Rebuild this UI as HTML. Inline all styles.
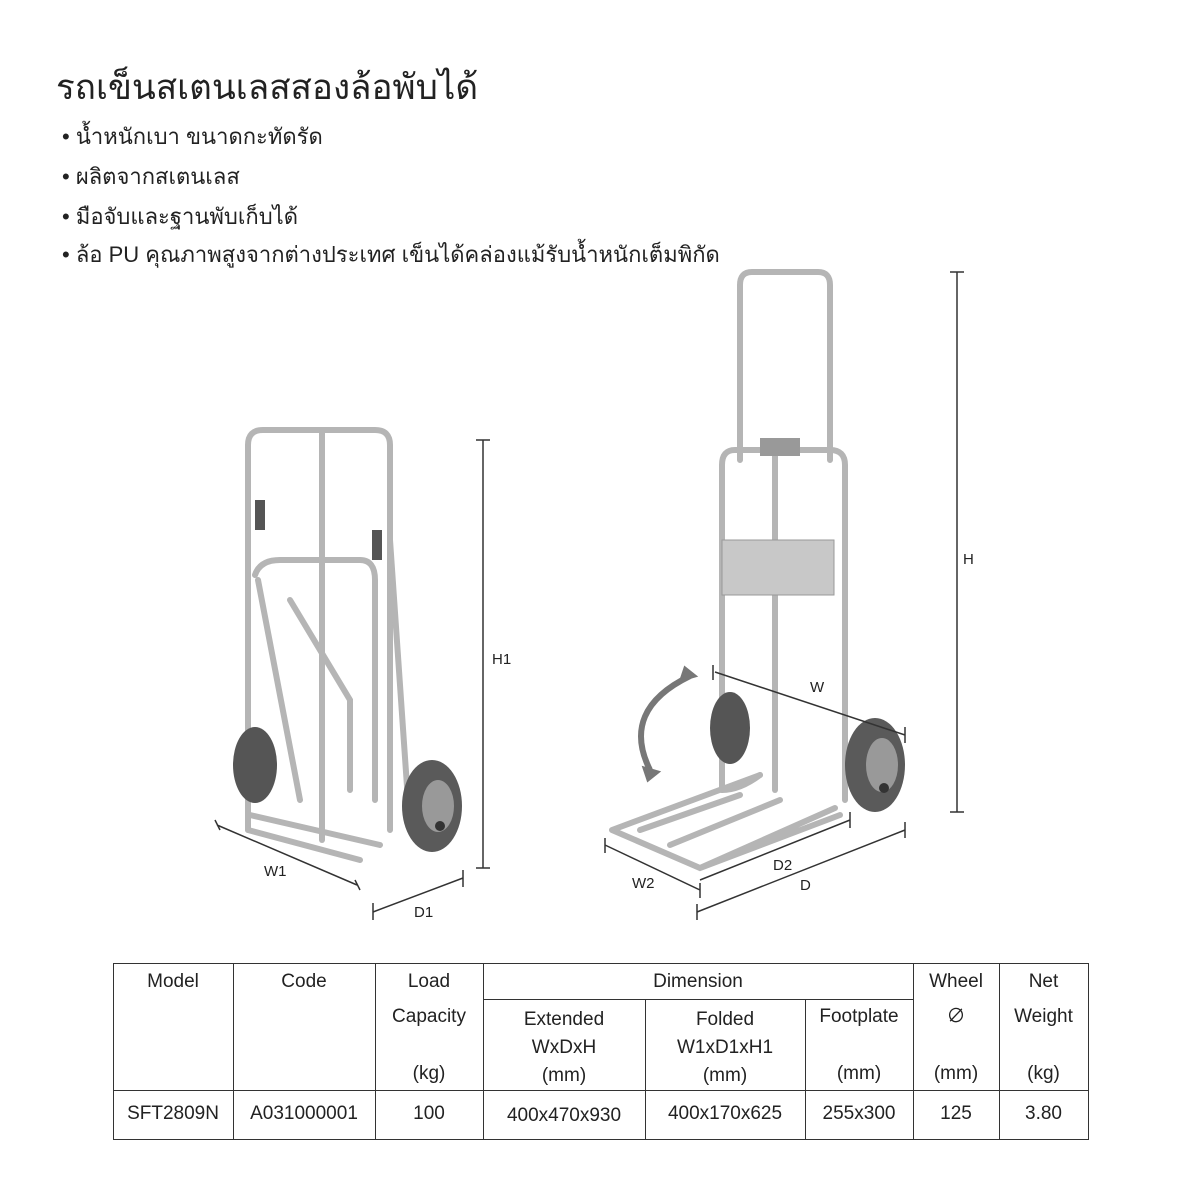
<!DOCTYPE html>
<html><head><meta charset="utf-8"><style>
body{margin:0;width:1200px;height:1200px;background:#fff;position:relative;overflow:hidden;font-family:"Liberation Sans","Noto Sans CJK SC",sans-serif;color:#222}
.t{position:absolute;white-space:nowrap;font-size:19px;text-align:center;line-height:22px}
h1{position:absolute;left:56px;top:60px;margin:0;font-size:35px;font-weight:normal;white-space:nowrap}
.b{position:absolute;left:62px;font-size:22px;white-space:nowrap}
.l{position:absolute;background:#333}
</style></head><body>
<h1>รถเข็นสเตนเลสสองล้อพับได้</h1>
<div class="b" style="top:119px">• น้ำหนักเบา ขนาดกะทัดรัด</div>
<div class="b" style="top:159px">• ผลิตจากสเตนเลส</div>
<div class="b" style="top:199px">• มือจับและฐานพับเก็บได้</div>
<div class="b" style="top:237px">• ล้อ PU คุณภาพสูงจากต่างประเทศ เข็นได้คล่องแม้รับน้ำหนักเต็มพิกัด</div>

<svg width="1200" height="1200" style="position:absolute;left:0;top:0" fill="none">
<g stroke="#b5b5b5" stroke-width="6" stroke-linecap="round">
<path d="M248 830 V445 Q248 430 263 430 H375 Q390 430 390 445 V830"/>
<path d="M322 432 V840"/>
<path d="M255 575 Q260 560 280 560 H360 Q375 560 375 580 V800"/>
<path d="M258 580 L300 800 M290 600 L350 700 V790"/>
<path d="M248 830 L360 860 M250 815 L380 845"/>
<path d="M390 540 L410 830"/>
</g>
<rect x="255" y="500" width="10" height="30" fill="#555"/>
<rect x="372" y="530" width="10" height="30" fill="#555"/>
<ellipse cx="255" cy="765" rx="22" ry="38" fill="#555"/>
<ellipse cx="432" cy="806" rx="30" ry="46" fill="#5a5a5a"/>
<ellipse cx="438" cy="806" rx="16" ry="26" fill="#999"/>
<circle cx="440" cy="826" r="5" fill="#333"/>
<g stroke="#b5b5b5" stroke-width="6" stroke-linecap="round">
<path d="M740 460 V285 Q740 272 752 272 H818 Q830 272 830 285 V460"/>
<path d="M722 790 V465 Q722 450 735 450 H830 Q845 450 845 465 V800"/>
<path d="M775 450 V790"/>
<path d="M612 830 L700 868 L840 815 M612 830 L760 775 M700 868 L835 808 M640 830 L740 795 M670 845 L780 800"/>
<path d="M722 790 Q740 790 760 775"/>
</g>
<rect x="722" y="540" width="112" height="55" fill="#c8c8c8" stroke="#999"/>
<rect x="760" y="438" width="40" height="18" fill="#999"/>
<ellipse cx="730" cy="728" rx="20" ry="36" fill="#555"/>
<ellipse cx="875" cy="765" rx="30" ry="47" fill="#5a5a5a"/>
<ellipse cx="882" cy="765" rx="16" ry="27" fill="#999"/>
<circle cx="884" cy="788" r="5" fill="#333"/>
<path d="M690 676 Q620 710 650 770" stroke="#777" stroke-width="6"/>
<path d="M685 668 l10 8 -14 4z M644 768 l14 4 -10 8z" fill="#777" stroke="#777" stroke-width="3"/>
<g stroke="#333" stroke-width="1.5">
<path d="M483 440 V868 M476 440 H490 M476 868 H490"/>
<path d="M217 825 L357 885 M215 820 L220 830 M355 880 L360 890"/>
<path d="M373 912 L463 878 M373 903 V920 M463 870 V887"/>
<path d="M957 272 V812 M950 272 H964 M950 812 H964"/>
<path d="M715 672 L905 735 M713 665 V680 M905 727 V743"/>
<path d="M605 845 L700 890 M605 838 V853 M700 883 V898"/>
<path d="M700 880 L850 820 M850 812 V828"/>
<path d="M697 912 L905 830 M697 904 V920 M905 822 V838"/>
</g>
<g fill="#222" font-size="15" font-family="Liberation Sans,sans-serif" stroke="none">
<text x="492" y="664">H1</text><text x="264" y="876">W1</text><text x="414" y="917">D1</text>
<text x="963" y="564">H</text><text x="810" y="692">W</text><text x="632" y="888">W2</text>
<text x="773" y="870">D2</text><text x="800" y="890">D</text>
</g>
</svg>

<!-- table lines -->
<div class="l" style="left:113px;top:963px;width:976px;height:1px"></div>
<div class="l" style="left:113px;top:1090px;width:976px;height:1px"></div>
<div class="l" style="left:113px;top:1139px;width:976px;height:1px"></div>
<div class="l" style="left:483px;top:999px;width:430px;height:1px"></div>
<div class="l" style="left:113px;top:963px;width:1px;height:177px"></div>
<div class="l" style="left:233px;top:963px;width:1px;height:177px"></div>
<div class="l" style="left:375px;top:963px;width:1px;height:177px"></div>
<div class="l" style="left:483px;top:963px;width:1px;height:177px"></div>
<div class="l" style="left:645px;top:999px;width:1px;height:141px"></div>
<div class="l" style="left:805px;top:999px;width:1px;height:141px"></div>
<div class="l" style="left:913px;top:963px;width:1px;height:177px"></div>
<div class="l" style="left:999px;top:963px;width:1px;height:177px"></div>
<div class="l" style="left:1088px;top:963px;width:1px;height:177px"></div>

<div class="t" style="left:113px;width:120px;top:971px">Model</div>
<div class="t" style="left:233px;width:142px;top:971px">Code</div>
<div class="t" style="left:375px;width:108px;top:971px">Load</div>
<div class="t" style="left:375px;width:108px;top:1006px">Capacity</div>
<div class="t" style="left:375px;width:108px;top:1063px">(kg)</div>
<div class="t" style="left:483px;width:430px;top:971px">Dimension</div>
<div class="t" style="left:483px;width:162px;top:1006px;line-height:28px">Extended<br>WxDxH<br>(mm)</div>
<div class="t" style="left:645px;width:160px;top:1006px;line-height:28px">Folded<br>W1xD1xH1<br>(mm)</div>
<div class="t" style="left:805px;width:108px;top:1006px">Footplate</div>
<div class="t" style="left:805px;width:108px;top:1063px">(mm)</div>
<div class="t" style="left:913px;width:86px;top:971px">Wheel</div>
<div class="t" style="left:913px;width:86px;top:1006px">∅</div>
<div class="t" style="left:913px;width:86px;top:1063px">(mm)</div>
<div class="t" style="left:999px;width:89px;top:971px">Net</div>
<div class="t" style="left:999px;width:89px;top:1006px">Weight</div>
<div class="t" style="left:999px;width:89px;top:1063px">(kg)</div>

<div class="t" style="left:113px;width:120px;top:1103px">SFT2809N</div>
<div class="t" style="left:233px;width:142px;top:1103px">A031000001</div>
<div class="t" style="left:375px;width:108px;top:1103px">100</div>
<div class="t" style="left:483px;width:162px;top:1105px">400x470x930</div>
<div class="t" style="left:645px;width:160px;top:1103px">400x170x625</div>
<div class="t" style="left:805px;width:108px;top:1103px">255x300</div>
<div class="t" style="left:913px;width:86px;top:1103px">125</div>
<div class="t" style="left:999px;width:89px;top:1103px">3.80</div>
</body></html>
